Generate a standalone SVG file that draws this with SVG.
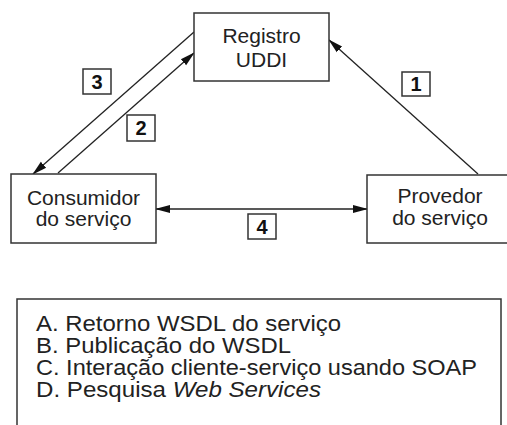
<svg xmlns="http://www.w3.org/2000/svg" width="507" height="425" viewBox="0 0 507 425">
<style>
.box{fill:#fff;stroke:#333;stroke-width:1.5}
.t{font-family:"Liberation Sans",Arial,sans-serif;font-size:21px;fill:#222;text-anchor:middle}
.num{font-family:"Liberation Sans",Arial,sans-serif;font-size:20px;font-weight:bold;fill:#111;text-anchor:middle}
.lg{font-family:"Liberation Sans",Arial,sans-serif;font-size:22px;fill:#222}
.ln{stroke:#222;stroke-width:1.3;fill:none}
</style>
<defs>
<marker id="ah" markerWidth="15" markerHeight="10" refX="14" refY="5" orient="auto-start-reverse" markerUnits="userSpaceOnUse">
<path d="M0,1 L15,5 L0,9 Z" fill="#111"/>
</marker>
</defs>
<rect width="507" height="425" fill="#fff"/>
<g id="connectors">
<line class="ln" x1="194" y1="32" x2="33" y2="174" marker-end="url(#ah)"/>
<line class="ln" x1="58" y1="173" x2="194" y2="53" marker-end="url(#ah)"/>
<line class="ln" x1="478" y1="174" x2="329" y2="40" marker-end="url(#ah)"/>
<line class="ln" x1="156" y1="209" x2="367" y2="209" marker-start="url(#ah)" marker-end="url(#ah)"/>
</g>
<g id="registro">
<rect class="box" x="194" y="13" width="135" height="68"/>
<text class="t" x="261.5" y="43">Registro</text>
<text class="t" x="261.5" y="67">UDDI</text>
</g>
<g id="consumidor">
<rect class="box" x="11" y="174" width="145" height="69"/>
<text class="t" x="83.5" y="205">Consumidor</text>
<text class="t" x="83.5" y="226">do serviço</text>
</g>
<g id="provedor">
<rect class="box" x="367" y="175" width="146" height="68"/>
<text class="t" x="440" y="203">Provedor</text>
<text class="t" x="440" y="225">do serviço</text>
</g>
<g id="label1"><rect class="box" x="402" y="72" width="28" height="24"/><text class="num" x="416" y="91">1</text></g>
<g id="label2"><rect class="box" x="127" y="115" width="28" height="26"/><text class="num" x="141" y="135">2</text></g>
<g id="label3"><rect class="box" x="83" y="69" width="28" height="25"/><text class="num" x="97" y="89">3</text></g>
<g id="label4"><rect class="box" x="248" y="214" width="28" height="25"/><text class="num" x="262" y="234">4</text></g>
<g id="legend">
<rect class="box" x="17" y="299" width="484" height="140"/>
<text class="lg" x="36" y="331" textLength="305" lengthAdjust="spacingAndGlyphs">A. Retorno WSDL do serviço</text>
<text class="lg" x="36" y="353" textLength="255" lengthAdjust="spacingAndGlyphs">B. Publicação do WSDL</text>
<text class="lg" x="36" y="375" textLength="441" lengthAdjust="spacingAndGlyphs">C. Interação cliente-serviço usando SOAP</text>
<text class="lg" x="36" y="397" textLength="285" lengthAdjust="spacingAndGlyphs">D. Pesquisa <tspan font-style="italic">Web Services</tspan></text>
</g>
</svg>
